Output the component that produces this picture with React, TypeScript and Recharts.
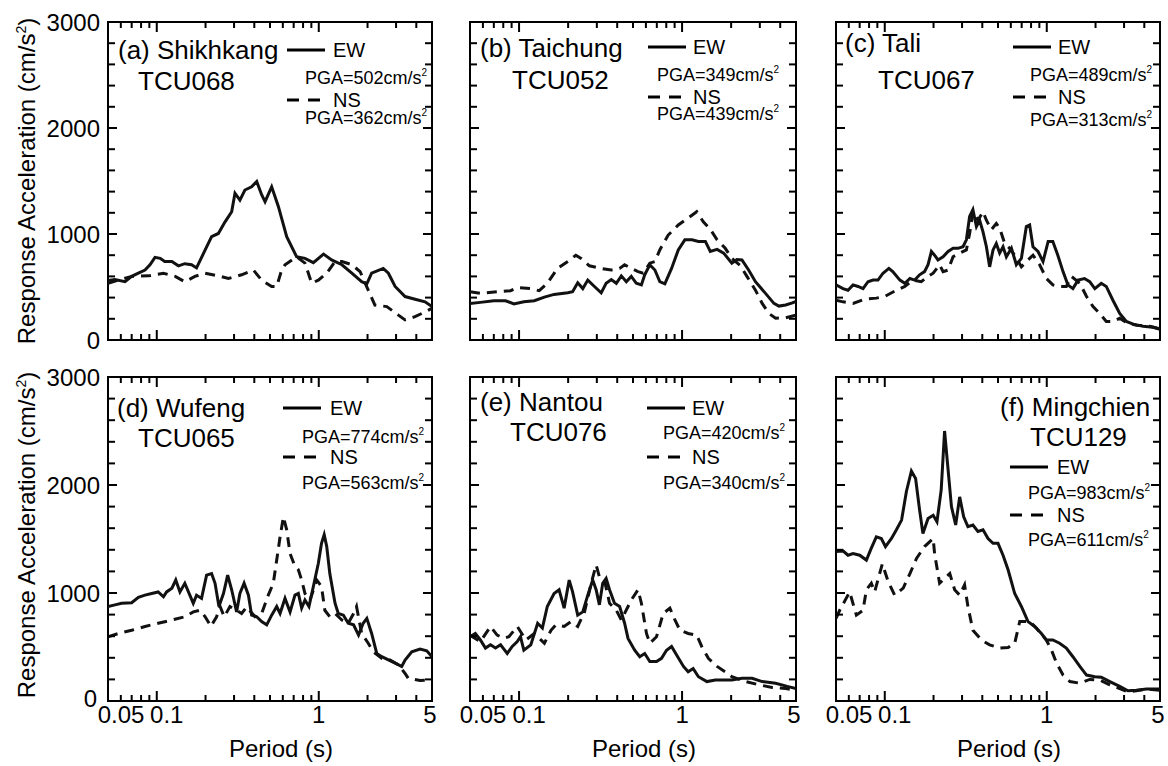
import { LineChart, Line, XAxis, YAxis, ReferenceArea } from 'recharts'

type Pt = [number, number]

// response spectra, [period (s), acceleration (cm/s^2)]
const aEw: Pt[] = [[0.05, 560], [0.0552, 570], [0.0637, 550], [0.07, 600], [0.077, 630], [0.0846, 660], [0.0908, 710], [0.0975, 780], [0.105, 770], [0.112, 740], [0.124, 740], [0.136, 700], [0.149, 720], [0.164, 710], [0.176, 680], [0.199, 850], [0.218, 975], [0.24, 1005], [0.264, 1115], [0.29, 1210], [0.304, 1385], [0.326, 1320], [0.35, 1415], [0.385, 1445], [0.414, 1495], [0.444, 1370], [0.466, 1305], [0.512, 1445], [0.563, 1260], [0.634, 975], [0.73, 785], [0.822, 770], [0.926, 730], [1.07, 810], [1.2, 755], [1.39, 710], [1.6, 630], [1.84, 550], [1.98, 530], [2.12, 630], [2.5, 675], [2.69, 630], [2.96, 505], [3.41, 410], [3.93, 385], [4.53, 360], [5, 315]]
const aNs: Pt[] = [[0.05, 535], [0.0579, 565], [0.07, 600], [0.0887, 605], [0.11, 630], [0.13, 600], [0.149, 550], [0.172, 600], [0.199, 630], [0.24, 605], [0.277, 580], [0.334, 615], [0.395, 660], [0.444, 565], [0.512, 505], [0.55, 505], [0.59, 660], [0.619, 710], [0.73, 785], [0.822, 725], [0.904, 535], [0.994, 565], [1.12, 630], [1.26, 740], [1.39, 740], [1.6, 710], [1.8, 645], [2.02, 470], [2.22, 330], [2.63, 315], [3.1, 235], [3.41, 190], [3.93, 220], [4.53, 265], [5, 300]]
const bEw: Pt[] = [[0.05, 345], [0.0579, 355], [0.07, 370], [0.0826, 370], [0.093, 340], [0.107, 360], [0.124, 370], [0.143, 405], [0.164, 430], [0.199, 445], [0.213, 455], [0.229, 540], [0.246, 485], [0.264, 565], [0.29, 505], [0.319, 445], [0.342, 535], [0.368, 570], [0.395, 535], [0.424, 605], [0.455, 550], [0.488, 600], [0.524, 535], [0.563, 520], [0.59, 615], [0.634, 710], [0.681, 660], [0.73, 550], [0.784, 530], [0.862, 675], [0.948, 850], [1.04, 945], [1.15, 945], [1.26, 930], [1.39, 930], [1.49, 835], [1.64, 855], [1.8, 820], [2.02, 725], [2.17, 760], [2.33, 755], [2.56, 660], [2.82, 550], [3.25, 440], [3.66, 345], [3.93, 320], [4.32, 330], [4.75, 350], [5, 365]]
const bNs: Pt[] = [[0.05, 455], [0.0579, 440], [0.0734, 455], [0.0887, 465], [0.0975, 495], [0.118, 485], [0.133, 465], [0.149, 535], [0.172, 675], [0.199, 740], [0.223, 800], [0.24, 770], [0.27, 700], [0.319, 675], [0.368, 660], [0.414, 675], [0.444, 710], [0.488, 675], [0.537, 645], [0.577, 630], [0.634, 725], [0.681, 740], [0.73, 850], [0.822, 990], [0.948, 1085], [1.09, 1150], [1.23, 1210], [1.35, 1115], [1.49, 1045], [1.64, 945], [1.84, 865], [2.02, 770], [2.28, 700], [2.5, 600], [2.82, 470], [3.1, 345], [3.41, 250], [3.75, 205], [4.32, 210], [5, 235]]
const cEw: Pt[] = [[0.05, 520], [0.0552, 485], [0.0593, 470], [0.0637, 520], [0.0684, 505], [0.0734, 485], [0.0788, 550], [0.0846, 565], [0.0908, 565], [0.0975, 630], [0.106, 675], [0.112, 645], [0.124, 565], [0.133, 535], [0.143, 580], [0.153, 565], [0.164, 615], [0.176, 645], [0.185, 710], [0.194, 835], [0.203, 800], [0.213, 755], [0.229, 785], [0.246, 835], [0.264, 865], [0.283, 865], [0.304, 880], [0.319, 945], [0.334, 1165], [0.35, 1230], [0.368, 1070], [0.385, 1130], [0.404, 1020], [0.424, 880], [0.444, 690], [0.466, 850], [0.488, 910], [0.512, 820], [0.537, 880], [0.563, 785], [0.605, 865], [0.649, 710], [0.697, 770], [0.748, 1070], [0.784, 1085], [0.822, 880], [0.883, 835], [0.948, 740], [1.02, 930], [1.09, 930], [1.17, 800], [1.26, 645], [1.35, 520], [1.45, 485], [1.56, 565], [1.71, 580], [1.84, 550], [1.98, 485], [2.17, 535], [2.33, 505], [2.56, 375], [2.82, 250], [3.1, 175], [3.41, 150], [3.93, 130], [4.53, 120], [5, 100]]
const cNs: Pt[] = [[0.05, 375], [0.0552, 360], [0.0637, 345], [0.0751, 385], [0.0887, 395], [0.0999, 410], [0.118, 470], [0.133, 505], [0.149, 565], [0.168, 550], [0.185, 600], [0.199, 630], [0.218, 710], [0.229, 645], [0.246, 660], [0.264, 785], [0.29, 820], [0.319, 850], [0.334, 1005], [0.35, 1210], [0.376, 1130], [0.404, 1210], [0.424, 1130], [0.455, 1040], [0.488, 1100], [0.512, 1055], [0.55, 910], [0.59, 865], [0.634, 800], [0.697, 690], [0.748, 740], [0.822, 800], [0.904, 710], [0.994, 580], [1.09, 520], [1.2, 505], [1.32, 505], [1.42, 600], [1.6, 535], [1.76, 410], [1.93, 315], [2.12, 250], [2.33, 175], [2.56, 175], [2.82, 205], [3.1, 165], [3.57, 140], [4.32, 130], [5, 105]]
const dEw: Pt[] = [[0.05, 875], [0.0552, 890], [0.0607, 905], [0.07, 910], [0.077, 960], [0.0846, 980], [0.093, 995], [0.102, 1010], [0.11, 965], [0.115, 1010], [0.124, 1045], [0.131, 1120], [0.139, 1010], [0.149, 1090], [0.16, 980], [0.168, 905], [0.176, 980], [0.189, 950], [0.203, 1165], [0.218, 1180], [0.229, 1090], [0.242, 875], [0.258, 995], [0.274, 1165], [0.29, 1030], [0.311, 825], [0.326, 995], [0.346, 1090], [0.368, 980], [0.385, 795], [0.414, 780], [0.444, 735], [0.477, 705], [0.512, 795], [0.55, 875], [0.577, 810], [0.619, 950], [0.665, 825], [0.713, 980], [0.748, 995], [0.784, 860], [0.822, 935], [0.87, 875], [0.926, 1060], [0.994, 1275], [1.04, 1460], [1.08, 1540], [1.12, 1430], [1.17, 1180], [1.26, 905], [1.32, 810], [1.42, 795], [1.52, 720], [1.64, 705], [1.76, 610], [1.88, 720], [1.98, 765], [2.12, 625], [2.28, 440], [2.45, 410], [2.69, 380], [2.96, 350], [3.25, 320], [3.41, 380], [3.75, 455], [4.22, 480], [4.64, 465], [5, 410]]
const dNs: Pt[] = [[0.05, 595], [0.0579, 625], [0.07, 655], [0.0846, 690], [0.102, 720], [0.124, 750], [0.149, 780], [0.168, 825], [0.185, 840], [0.199, 780], [0.216, 690], [0.234, 780], [0.246, 875], [0.261, 780], [0.283, 875], [0.311, 840], [0.334, 810], [0.359, 870], [0.404, 780], [0.444, 810], [0.488, 980], [0.524, 1090], [0.55, 1305], [0.577, 1520], [0.605, 1705], [0.634, 1585], [0.665, 1365], [0.707, 1260], [0.748, 1215], [0.784, 1120], [0.822, 995], [0.883, 935], [0.971, 1120], [1.04, 1060], [1.09, 840], [1.17, 780], [1.26, 810], [1.39, 750], [1.52, 720], [1.64, 810], [1.71, 875], [1.84, 625], [2.02, 535], [2.17, 455], [2.45, 395], [2.75, 380], [3.1, 335], [3.41, 255], [3.57, 210], [4.22, 190], [5, 195]]
const eEw: Pt[] = [[0.05, 595], [0.0539, 625], [0.0579, 565], [0.0622, 490], [0.0668, 520], [0.0717, 490], [0.077, 520], [0.0846, 440], [0.0908, 505], [0.0975, 550], [0.102, 595], [0.107, 470], [0.118, 520], [0.13, 720], [0.139, 675], [0.149, 875], [0.164, 995], [0.176, 1030], [0.189, 860], [0.203, 1120], [0.213, 1010], [0.229, 795], [0.246, 825], [0.264, 980], [0.283, 1120], [0.297, 1030], [0.311, 890], [0.326, 1090], [0.342, 1135], [0.359, 1030], [0.385, 905], [0.414, 875], [0.444, 720], [0.466, 580], [0.512, 470], [0.55, 410], [0.59, 440], [0.634, 365], [0.697, 365], [0.748, 395], [0.803, 470], [0.862, 505], [0.926, 425], [1.02, 320], [1.09, 270], [1.17, 300], [1.26, 225], [1.42, 180], [1.6, 195], [1.8, 195], [2.02, 195], [2.33, 210], [2.69, 210], [3.1, 180], [3.75, 165], [4.42, 135], [5, 115]]
const eNs: Pt[] = [[0.05, 610], [0.0579, 550], [0.0668, 690], [0.0734, 610], [0.0807, 580], [0.0866, 595], [0.0975, 690], [0.11, 565], [0.124, 625], [0.143, 535], [0.157, 655], [0.168, 705], [0.189, 690], [0.208, 735], [0.229, 690], [0.252, 825], [0.277, 1090], [0.297, 1260], [0.311, 1150], [0.334, 1120], [0.359, 905], [0.395, 840], [0.424, 750], [0.488, 935], [0.537, 1030], [0.563, 905], [0.605, 625], [0.634, 535], [0.697, 595], [0.766, 810], [0.842, 860], [0.904, 750], [0.971, 655], [1.09, 625], [1.23, 610], [1.32, 505], [1.45, 395], [1.64, 320], [1.84, 270], [2.02, 225], [2.45, 180], [2.96, 150], [3.57, 125], [4.32, 115], [5, 100]]
const fEw: Pt[] = [[0.05, 1385], [0.0552, 1390], [0.0593, 1350], [0.0637, 1365], [0.07, 1350], [0.077, 1305], [0.0826, 1415], [0.0887, 1520], [0.0952, 1505], [0.101, 1430], [0.11, 1505], [0.118, 1585], [0.127, 1675], [0.136, 1940], [0.146, 2130], [0.155, 2060], [0.164, 1770], [0.172, 1550], [0.185, 1690], [0.199, 1720], [0.21, 1660], [0.223, 1955], [0.234, 2500], [0.246, 2140], [0.258, 1800], [0.274, 1630], [0.29, 1890], [0.307, 1705], [0.326, 1615], [0.35, 1630], [0.376, 1570], [0.404, 1585], [0.434, 1505], [0.466, 1460], [0.5, 1460], [0.537, 1350], [0.577, 1215], [0.634, 995], [0.697, 875], [0.766, 735], [0.842, 690], [0.926, 625], [0.994, 565], [1.09, 565], [1.2, 535], [1.32, 490], [1.45, 410], [1.6, 320], [1.76, 240], [1.98, 225], [2.17, 220], [2.45, 180], [2.82, 135], [3.17, 95], [3.57, 100], [4.12, 110], [5, 110]]
const fNs: Pt[] = [[0.05, 765], [0.0527, 840], [0.0607, 1010], [0.0668, 795], [0.0734, 840], [0.077, 1030], [0.0826, 1090], [0.0866, 1010], [0.0966, 1270], [0.105, 1105], [0.115, 980], [0.13, 1045], [0.143, 1180], [0.157, 1320], [0.176, 1430], [0.199, 1505], [0.203, 1365], [0.218, 1090], [0.252, 1180], [0.27, 1030], [0.29, 980], [0.311, 1075], [0.326, 875], [0.35, 655], [0.395, 565], [0.444, 520], [0.512, 490], [0.577, 495], [0.634, 535], [0.681, 735], [0.784, 735], [0.862, 675], [0.994, 565], [1.07, 470], [1.15, 350], [1.26, 240], [1.39, 180], [1.6, 165], [1.84, 200], [2.12, 195], [2.45, 150], [2.82, 115], [3.17, 85], [3.57, 95], [4.12, 110], [5, 100]]

const ewSeries = [aEw, bEw, cEw, dEw, eEw, fEw]
const nsSeries = [aNs, bNs, cNs, dNs, eNs, fNs]
const names = ['(a) Shikhkang', '(b) Taichung', '(c) Tali', '(d) Wufeng', '(e) Nantou', '(f) Mingchien']
const stations = ['TCU068', 'TCU052', 'TCU067', 'TCU065', 'TCU076', 'TCU129']
const pgaEw = [502, 349, 489, 774, 420, 983]
const pgaNs = [362, 439, 313, 563, 340, 611]

const xTicks = [0.05, 0.06, 0.07, 0.08, 0.09, 0.1, 0.2, 0.3, 0.4, 0.5, 0.6, 0.7, 0.8, 0.9, 1, 2, 3, 4, 5]
const xLabels = [0.05, 0.1, 1, 5]
const yTicks = [0, 200, 400, 600, 800, 1000, 1200, 1400, 1600, 1800, 2000, 2200, 2400, 2600, 2800, 3000]
const yLabels = [0, 1000, 2000, 3000]

// layout (page px)
const colX = [108, 470, 836]
const colW = [324, 326, 324]
const rowY = [22, 377]
const rowH = [318, 324]
const FONT = '"Liberation Sans", Arial, Helvetica, sans-serif'
const labelShift: Record<number, number> = { 0.05: 13, 0.1: 10, 1: 0, 5: -2 }

// in-panel text placement, relative to the plot's top-left corner
const annot = [
  { tx: 10, ty: 28, sx: 30, sy: 59, lx: 179, ew: 28, ns: 78, wx: 225, gx: 197, g1: 56, g2: 96 },
  { tx: 10, ty: 26, sx: 42, sy: 58, lx: 178, ew: 25, ns: 75, wx: 223, gx: 187, g1: 53, g2: 92 },
  { tx: 9, ty: 21, sx: 42, sy: 58, lx: 177, ew: 25, ns: 75, wx: 222, gx: 194, g1: 53, g2: 98 },
  { tx: 9, ty: 31, sx: 30, sy: 61, lx: 175, ew: 31, ns: 80, wx: 222, gx: 194, g1: 60, g2: 106 },
  { tx: 10, ty: 25, sx: 40, sy: 55, lx: 177, ew: 31, ns: 80, wx: 222, gx: 193, g1: 56, g2: 106 },
  { tx: 164, ty: 30, sx: 194, sy: 60, lx: 174, ew: 90, ns: 138, wx: 221, gx: 192, g1: 116, g2: 163 },
]

function toRows(pts: Pt[]) {
  return pts.map(([t, v]) => ({ t, v }))
}

function Panel({ i }: { i: number }) {
  const col = i % 3
  const row = Math.floor(i / 3)
  const px = colX[col]
  const py = rowY[row]
  const pw = colW[col]
  const ph = rowH[row]
  const left = col === 0 ? 0 : px - 30
  const top = row === 0 ? 0 : py - 27
  const wl = px - left
  const mt = py - top
  const hb = row === 1 ? 766 - (py + ph) : 18
  const wr = 8
  const bottomY = mt + ph

  const xTick = (p: any) => {
    const v = p.payload.value
    const x = p.x
    const len = v === 0.1 || v === 1 ? 10 : 6
    const lab = row === 1 && xLabels.includes(v)
    return (
      <g>
        <line x1={x} x2={x} y1={bottomY} y2={bottomY - len} stroke="#000" strokeWidth={2} />
        <line x1={x} x2={x} y1={mt} y2={mt + len} stroke="#000" strokeWidth={2} />
        {lab && (
          <text x={x + (labelShift[v] ?? 0)} y={bottomY + 22} textAnchor="middle" fontSize={24} fontFamily={FONT} fill="#000">
            {v}
          </text>
        )}
      </g>
    )
  }

  const yTick = (p: any) => {
    const v = p.payload.value
    const y = p.y
    const len = v % 1000 === 0 ? 9 : 7
    const lab = col === 0 && yLabels.includes(v)
    const nudge = row === 1 && v === 0 ? 3 : 0
    return (
      <g>
        <line x1={wl} x2={wl + len} y1={y} y2={y} stroke="#000" strokeWidth={2} />
        <line x1={wl + pw} x2={wl + pw - len} y1={y} y2={y} stroke="#000" strokeWidth={2} />
        {lab && (
          <text x={wl - 8 - nudge} y={y + 8.5 - nudge} textAnchor="end" fontSize={24} fontFamily={FONT} fill="#000">
            {v}
          </text>
        )}
      </g>
    )
  }

  return (
    <div style={{ position: 'absolute', left, top }}>
      <LineChart width={wl + pw + wr} height={mt + ph + hb} margin={{ top: mt, right: wr, bottom: 0, left: 0 }}>
        <XAxis
          xAxisId="x"
          dataKey="t"
          type="number"
          scale="log"
          domain={[0.05, 5]}
          allowDataOverflow
          ticks={xTicks}
          interval={0}
          height={hb}
          axisLine={false}
          tickLine={false}
          tickSize={0}
          tickMargin={0}
          tick={xTick}
        />
        <YAxis
          yAxisId="y"
          type="number"
          domain={[0, 3000]}
          allowDataOverflow
          ticks={yTicks}
          interval={0}
          width={wl}
          axisLine={false}
          tickLine={false}
          tickSize={0}
          tickMargin={0}
          tick={yTick}
        />
        <ReferenceArea xAxisId="x" yAxisId="y" x1={0.05} x2={5} y1={0} y2={3000} fill="none" fillOpacity={0} stroke="#000" strokeWidth={2} />
        <Line
          xAxisId="x"
          yAxisId="y"
          data={toRows(nsSeries[i])}
          dataKey="v"
          type="linear"
          stroke="#111"
          strokeWidth={3}
          strokeDasharray="10 7"
          dot={false}
          activeDot={false}
          isAnimationActive={false}
        />
        <Line
          xAxisId="x"
          yAxisId="y"
          data={toRows(ewSeries[i])}
          dataKey="v"
          type="linear"
          stroke="#111"
          strokeWidth={3}
          dot={false}
          activeDot={false}
          isAnimationActive={false}
        />
      </LineChart>
    </div>
  )
}

function Notes() {
  return (
    <svg width={1168} height={766} style={{ position: 'absolute', left: 0, top: 0, pointerEvents: 'none' }} fontFamily={FONT} fill="#000">
      {annot.map((a, i) => {
        const px = colX[i % 3]
        const py = rowY[Math.floor(i / 3)]
        return (
          <g key={i}>
            <text x={px + a.tx} y={py + a.ty + 9.3} fontSize={26}>{names[i]}</text>
            <text x={px + a.sx} y={py + a.sy + 9.3} fontSize={26}>{stations[i]}</text>
            <line x1={px + a.lx} x2={px + a.lx + 38} y1={py + a.ew} y2={py + a.ew} stroke="#000" strokeWidth={3} />
            <text x={px + a.wx} y={py + a.ew + 7.2} fontSize={20}>EW</text>
            <text x={px + a.gx} y={py + a.g1 + 6.4} fontSize={18}>
              PGA={pgaEw[i]}cm/s<tspan dy={-8} fontSize={10}>2</tspan>
            </text>
            <line x1={px + a.lx} x2={px + a.lx + 33} y1={py + a.ns} y2={py + a.ns} stroke="#000" strokeWidth={3} strokeDasharray="12 9" />
            <text x={px + a.wx} y={py + a.ns + 7.2} fontSize={20}>NS</text>
            <text x={px + a.gx} y={py + a.g2 + 6.4} fontSize={18}>
              PGA={pgaNs[i]}cm/s<tspan dy={-8} fontSize={10}>2</tspan>
            </text>
          </g>
        )
      })}
      {rowY.map((y, r) => (
        <text key={'yl' + r} transform={`translate(35, ${y + rowH[r] / 2 - (r === 1 ? 4 : 0)}) rotate(-90)`} textAnchor="middle" fontSize={24}>
          Response Acceleration (cm/s<tspan dy={-9} fontSize={14}>2</tspan>
          <tspan dy={9}>)</tspan>
        </text>
      ))}
      {colX.map((x, c) => (
        <text key={'xl' + c} x={x + colW[c] / 2 + 11} y={757} textAnchor="middle" fontSize={24}>
          Period (s)
        </text>
      ))}
    </svg>
  )
}

export default function App() {
  return (
    <div style={{ position: 'absolute', left: 0, top: 0, width: 1168, height: 766, background: '#fff', fontFamily: FONT }}>
      {[0, 1, 2, 3, 4, 5].map((i) => (
        <Panel key={i} i={i} />
      ))}
      <Notes />
    </div>
  )
}
